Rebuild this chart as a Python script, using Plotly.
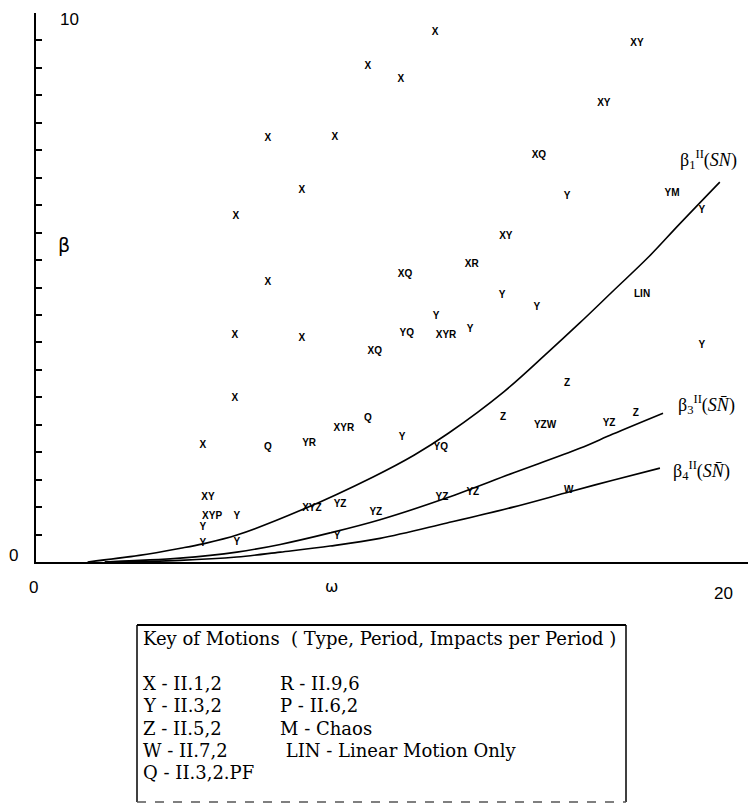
import plotly.graph_objects as go

# ---------------- data ----------------
# stability boundary curves beta(omega)
w_b1 = [1.5, 3.0, 4.2, 4.85, 5.84, 7.73, 9.8, 11.0, 12.0, 13.6, 14.85, 15.8, 16.8, 17.8, 18.7, 19.88]
b1 = [0, 0.12, 0.25, 0.33, 0.49, 0.95, 1.55, 1.95, 2.35, 3.1, 3.8, 4.35, 4.95, 5.55, 6.15, 6.92]

w_b3 = [2.0, 4.19, 5.84, 7.1, 8.55, 10.0, 11.95, 13.87, 15.81, 16.77, 18.23]
b3 = [0, 0.07, 0.18, 0.32, 0.53, 0.77, 1.17, 1.62, 2.07, 2.33, 2.71]

w_b4 = [2.0, 4.19, 5.84, 7.1, 8.55, 10.0, 11.95, 13.87, 15.52, 16.77, 18.14]
b4 = [0, 0.03, 0.09, 0.18, 0.29, 0.43, 0.71, 1.0, 1.28, 1.49, 1.71]

# observed motions (letter codes) at (omega, beta)
motion_labels = [
    "X", "XY", "X", "X", "XY", "X", "X", "XQ", "Y", "YM", "Y", "X", "X", "XY", "XR",
    "X", "XQ", "Y", "LIN", "Y", "Y", "YQ", "XYR", "Y", "X", "X", "XQ", "Y", "Z", "X",
    "XYR", "Q", "Z", "YZW", "YZ", "Z", "X", "Q", "YR", "Y", "YQ", "XY", "XYP", "Y", "Y",
    "Y", "Y", "XYZ", "YZ", "Y", "YZ", "YZ", "YZ", "W",
]
motion_omega = [
    11.60, 17.47, 9.65, 10.61, 16.51, 6.74, 8.69, 14.62, 15.44, 18.49, 19.36, 7.73, 5.81, 13.66, 12.67,
    6.74, 10.73, 13.55, 17.62, 14.56, 11.63, 10.78, 11.92, 12.62, 5.78, 7.73, 9.85, 19.36, 15.44, 5.78,
    8.95, 9.65, 13.58, 14.80, 16.66, 17.44, 4.85, 6.74, 7.94, 10.64, 11.77, 5.00, 5.12, 5.84, 4.85,
    4.85, 5.84, 8.02, 8.84, 8.75, 9.88, 11.80, 12.70, 15.49,
]
motion_beta = [
    9.64, 9.45, 9.03, 8.78, 8.36, 7.72, 7.74, 7.40, 6.65, 6.72, 6.41, 6.76, 6.30, 5.92, 5.41,
    5.10, 5.23, 4.85, 4.88, 4.64, 4.48, 4.17, 4.13, 4.23, 4.12, 4.08, 3.83, 3.95, 3.26, 2.97,
    2.44, 2.62, 2.64, 2.48, 2.53, 2.71, 2.13, 2.09, 2.15, 2.26, 2.08, 1.18, 0.82, 0.82, 0.62,
    0.33, 0.35, 0.98, 1.04, 0.46, 0.91, 1.17, 1.26, 1.31,
]

key_title = "Key of Motions\u00a0\u00a0( Type, Period, Impacts per Period )"
key_col1 = ["X - II.1,2", "Y - II.3,2", "Z - II.5,2", "W - II.7,2", "Q - II.3,2.PF"]
key_col2 = ["R - II.9,6", "P - II.6,2", "M - Chaos", "\u00a0LIN - Linear Motion Only"]

curve_labels = [
    "β<sub>1</sub><sup>II</sup>(<i>SN</i>)",
    "β<sub>3</sub><sup>II</sup>(<i>SN\u0304</i>)",
    "β<sub>4</sub><sup>II</sup>(<i>SN\u0304</i>)",
]
curve_label_pos = [(19.56, 7.33), (19.48, 2.86), (19.36, 1.66)]

# ---------------- figure ----------------
W, H = 748, 806
ML, MR, MT, MB = 36, 0, 13, 244
X_MAX = 20.7

def xp(px):
    return (px - ML) / (W - ML - MR)

def yp(py):
    return (H - MB - py) / (H - MT - MB)

fig = go.Figure()
for wx, by in ((w_b1, b1), (w_b3, b3), (w_b4, b4)):
    fig.add_trace(go.Scatter(x=wx, y=by, mode="lines",
                             line=dict(color="black", width=1.6, shape="spline", smoothing=1.0),
                             hoverinfo="skip", showlegend=False))

fig.add_trace(go.Scatter(x=motion_omega, y=motion_beta, mode="text", text=motion_labels,
                         textposition="middle center",
                         textfont=dict(family="Liberation Sans", size=10, color="black", weight="bold"),
                         showlegend=False))

ann = []
for txt, (ax, ay) in zip(curve_labels, curve_label_pos):
    ann.append(dict(x=ax, y=ay, xref="x", yref="y", text=txt, showarrow=False,
                    font=dict(family="Liberation Serif", size=18, color="black")))

axis_font = dict(family="Liberation Sans", size=17, color="black")
ann += [
    dict(x=0, y=10, xref="x", yref="y", text="10", showarrow=False, xanchor="left",
         xshift=22, yshift=-6, font=axis_font),
    dict(x=0, y=0, xref="x", yref="y", text="0", showarrow=False, xshift=-23, yshift=7, font=axis_font),
    dict(x=0, y=0, xref="x", yref="y", text="0", showarrow=False, xshift=-3, yshift=-25, font=axis_font),
    dict(x=20, y=0, xref="x", yref="y", text="20", showarrow=False, yshift=-31, font=axis_font),
    dict(x=8.6, y=0, xref="x", yref="y", text="ω", showarrow=False, yshift=-24,
         font=dict(family="DejaVu Sans", size=16, color="black")),
    dict(x=0, y=5.77, xref="x", yref="y", text="β", showarrow=False, xshift=28,
         font=dict(family="DejaVu Sans", size=19, color="black")),
]

key_font = dict(family="DejaVu Serif", size=18, color="black")
ann.append(dict(x=xp(141), y=yp(638), xref="paper", yref="paper", text=key_title,
                showarrow=False, xanchor="left", yanchor="middle", font=key_font))
rows_y = [683, 705, 728, 750, 772]
for txt, ry in zip(key_col1, rows_y):
    ann.append(dict(x=xp(141), y=yp(ry), xref="paper", yref="paper", text=txt,
                    showarrow=False, xanchor="left", yanchor="middle", font=key_font))
for txt, ry in zip(key_col2, rows_y):
    ann.append(dict(x=xp(278), y=yp(ry), xref="paper", yref="paper", text=txt,
                    showarrow=False, xanchor="left", yanchor="middle", font=key_font))

BOX_L, BOX_R, BOX_T, BOX_B = 137, 626, 625, 802
shapes = [
    dict(type="line", xref="paper", yref="paper", x0=xp(BOX_L), x1=xp(BOX_R), y0=yp(BOX_T), y1=yp(BOX_T),
         line=dict(color="black", width=2)),
    dict(type="line", xref="paper", yref="paper", x0=xp(BOX_L), x1=xp(BOX_L), y0=yp(BOX_T), y1=yp(BOX_B),
         line=dict(color="black", width=1.5)),
    dict(type="line", xref="paper", yref="paper", x0=xp(BOX_R), x1=xp(BOX_R), y0=yp(BOX_T), y1=yp(BOX_B),
         line=dict(color="black", width=1.5)),
    dict(type="line", xref="paper", yref="paper", x0=xp(BOX_L), x1=xp(BOX_R), y0=yp(BOX_B), y1=yp(BOX_B),
         line=dict(color="#555555", width=1.5, dash="dash")),
]

fig.update_layout(
    width=W, height=H, margin=dict(l=ML, r=MR, t=MT, b=MB, pad=0),
    paper_bgcolor="white", plot_bgcolor="white",
    annotations=ann, shapes=shapes, showlegend=False,
    xaxis=dict(range=[0, X_MAX], showgrid=False, zeroline=False, showticklabels=False,
               ticks="", showline=True, linecolor="black", linewidth=2),
    yaxis=dict(range=[0, 10], showgrid=False, zeroline=False, showticklabels=False,
               ticks="inside", ticklen=6, tickwidth=2, tickcolor="black", dtick=0.5, tick0=0,
               showline=True, linecolor="black", linewidth=2),
)

fig.write_html("out.html")
